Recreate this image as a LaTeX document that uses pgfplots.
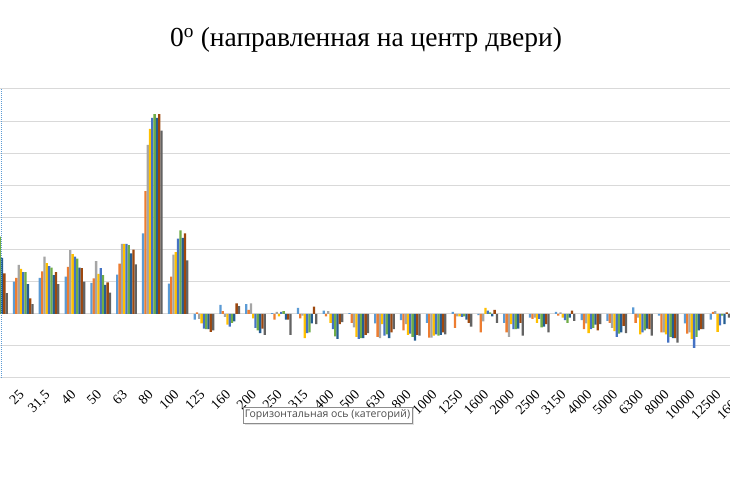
\documentclass[border=0pt]{standalone}
\usepackage{pgfplots}
\pgfplotsset{compat=1.18}
\usepackage{pgfplotstable}
\usepackage{fontspec}
\setmainfont{Liberation Serif}
\newfontfamily\uifont{Open Sans}
\definecolor{c1}{HTML}{5B9BD5}
\definecolor{c2}{HTML}{ED7D31}
\definecolor{c3}{HTML}{A5A5A5}
\definecolor{c4}{HTML}{FFC000}
\definecolor{c5}{HTML}{4472C4}
\definecolor{c6}{HTML}{70AD47}
\definecolor{c7}{HTML}{255E91}
\definecolor{c8}{HTML}{9E480E}
\definecolor{c9}{HTML}{636363}
\definecolor{gridgray}{HTML}{D9D9D9}
\pgfplotstableread{
x s1 s2 s3 s4 s5 s6 s7 s8 s9
0 9.0 10.0 11.0 12.0 11.0 12.0 8.7 6.3 3.2
1 5.0 5.6 7.6 7.0 6.5 6.5 4.6 2.4 1.5
2 5.6 6.6 8.9 7.9 7.4 7.2 6.0 6.5 4.6
3 5.8 7.3 9.9 9.3 8.9 8.6 7.2 7.1 5.0
4 4.8 5.5 8.2 6.2 7.1 6.0 4.5 4.9 3.3
5 6.1 7.8 10.9 10.9 10.9 10.7 9.4 10.0 7.7
6 12.5 19.1 26.3 28.8 30.5 31.1 30.5 31.1 28.5
7 4.7 5.8 9.2 9.6 11.7 13.0 11.8 12.5 8.3
8 -0.9 0.2 -0.8 -1.5 -2.3 -2.4 -2.4 -2.8 -2.6
9 1.4 0.4 -0.5 -1.7 -2.0 -1.4 -1.2 1.6 1.2
10 1.5 0.6 1.6 -0.7 -2.2 -2.6 -3.0 -2.3 -3.3
11 0.1 -0.9 0.3 -0.4 0.3 0.4 -0.9 -0.9 -3.3
12 0.9 -0.7 -0.3 -3.8 -3.0 -2.9 -1.5 1.1 -1.6
13 0.5 -0.4 0.4 -1.4 -2.4 -3.5 -3.9 -1.6 -1.3
14 0.1 -1.4 -2.1 -3.6 -3.9 -3.8 -3.8 -3.3 -3.0
15 -1.5 -3.6 -3.8 -1.6 -3.4 -3.2 -3.8 -2.9 -2.4
16 -1.0 -2.6 -1.6 -3.3 -3.1 -3.6 -4.2 -3.3 -3.4
17 -1.4 -3.7 -3.7 -3.4 -3.2 -3.4 -3.3 -2.9 -3.2
18 0.3 -2.2 -0.4 -0.4 -0.5 -0.4 -0.9 -1.4 -2.0
19 -0.2 -2.9 -1.2 0.9 0.5 0.2 -0.4 0.6 -1.4
20 -1.4 -2.9 -3.6 -1.6 -2.4 -2.4 -2.3 -1.4 -3.4
21 -0.6 -0.8 -0.6 -1.4 -0.8 -2.1 -2.0 -1.6 -2.9
22 0.3 -0.3 0.2 -0.6 -1.0 -1.4 -0.6 0.5 -1.1
23 -1.0 -2.4 -1.5 -3.0 -2.4 -2.2 -1.7 -2.6 -1.6
24 -1.1 -1.4 -2.2 -2.7 -3.6 -3.1 -2.9 -1.9 -3.0
25 1.0 -1.4 -0.6 -3.2 -2.9 -2.6 -2.3 -2.4 -3.4
26 -0.3 -2.9 -2.9 -3.2 -4.5 -3.6 -3.8 -3.8 -4.5
27 -1.5 -3.1 -2.9 -3.9 -5.3 -3.6 -2.6 -2.4 -2.4
28 -0.9 0.3 0.4 -2.8 -1.8 -0.3 -1.6 0.2 -0.6
29 -1.0 -1.5 -1.2 -2.0 -1.8 -1.5 -1.3 -1.0 -1.2
}\data
\begin{document}
\begin{tikzpicture}[x=1pt,y=1pt]
\path[use as bounding box, clip] (0,0) rectangle (730,486);
\fill[white] (0,0) rectangle (730,486);
\begin{axis}[
  at={(-15.4pt,108pt)}, anchor=south west,
  scale only axis, width=774pt, height=289pt,
  xmin=-0.5, xmax=29.5, ymin=-10, ymax=35,
  ybar=0pt, bar width=2.3pt,
  ytick={-10,-5,...,35}, yticklabels={},
  ymajorgrids, grid style={draw=gridgray, line width=1pt},
  axis line style={draw=none},
  xtick={0,...,29},
  xticklabels={20,25,{31,5},40,50,63,80,100,125,160,200,250,315,400,500,630,800,1000,1250,1600,2000,2500,3150,4000,5000,6300,8000,10000,12500,16000},
  xticklabel style={xshift=-5pt, yshift=-11pt, rotate=45, anchor=north east, font=\fontsize{14}{15}\selectfont, inner sep=0pt},
  major tick length=0pt,
  clip=false,
]
\addplot[fill=c1, draw=none] table[x=x,y=s1]{\data};
\addplot[fill=c2, draw=none] table[x=x,y=s2]{\data};
\addplot[fill=c3, draw=none] table[x=x,y=s3]{\data};
\addplot[fill=c4, draw=none] table[x=x,y=s4]{\data};
\addplot[fill=c5, draw=none] table[x=x,y=s5]{\data};
\addplot[fill=c6, draw=none] table[x=x,y=s6]{\data};
\addplot[fill=c7, draw=none] table[x=x,y=s7]{\data};
\addplot[fill=c8, draw=none] table[x=x,y=s8]{\data};
\addplot[fill=c9, draw=none] table[x=x,y=s9]{\data};
\end{axis}
\draw[densely dotted, color=c1, line width=1pt] (1,108) -- (1,398);
\node[anchor=base, font=\fontsize{27.5}{30}\selectfont] at (366,439.5) {0\textsuperscript{o} (направленная на центр двери)};
\fill[black!12] (245,61) rectangle (414,77);
\filldraw[fill=white, draw=black!45, line width=0.6pt] (243,63) rectangle (412,79);
\node[font=\uifont\fontsize{10.5}{12}\selectfont, text=black!70] at (327.5,71) {Горизонтальная ось (категорий)};
\end{tikzpicture}
\end{document}
